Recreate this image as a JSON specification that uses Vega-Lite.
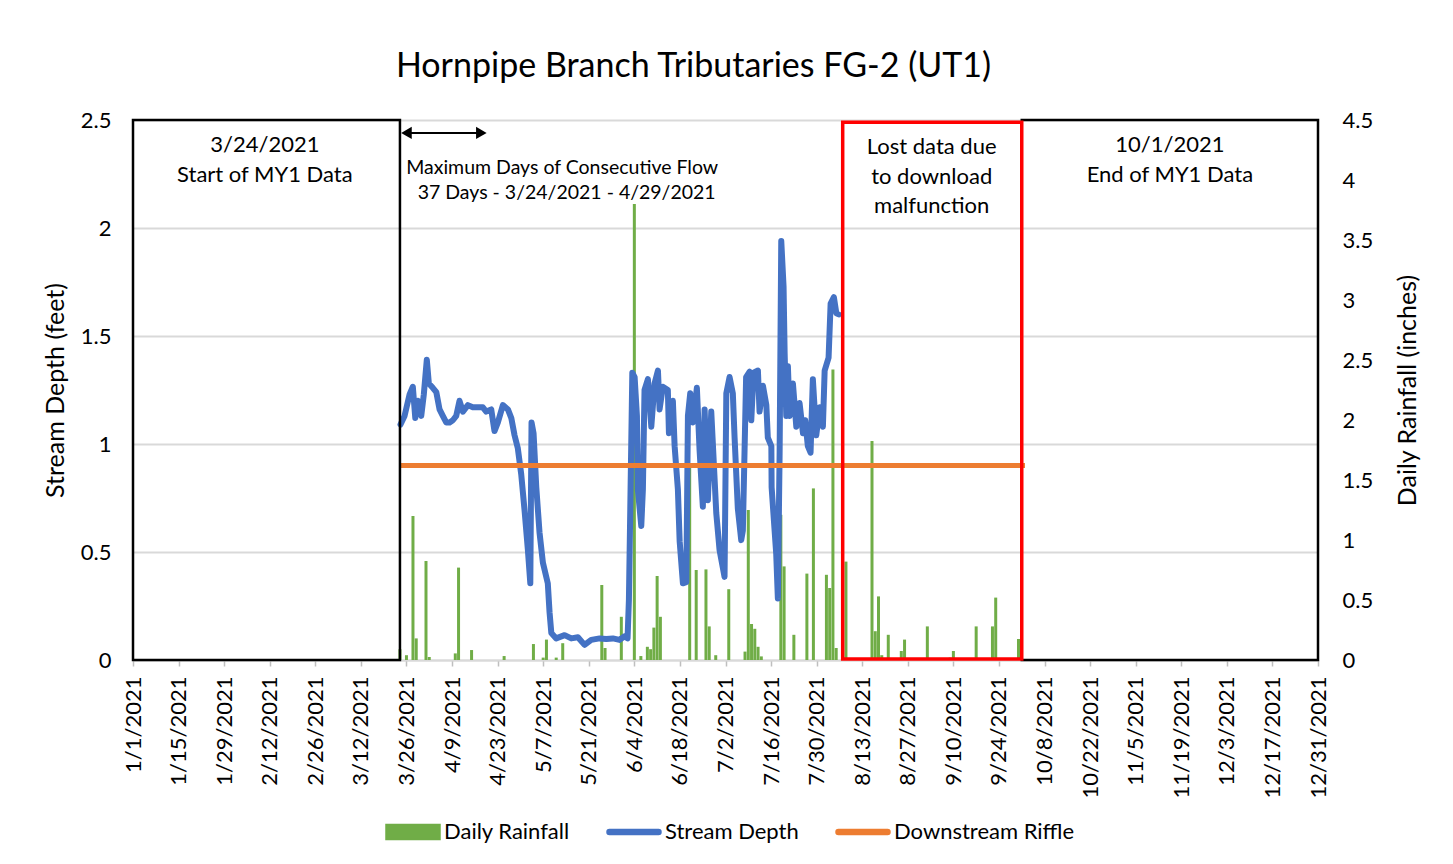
{
  "$schema": "https://vega.github.io/schema/vega-lite/v6.json",
  "autosize": {"type": "none"},
  "padding": {"left": 133, "top": 120, "right": 135, "bottom": 204},
  "width": 1185,
  "height": 540,
  "background": "white",
  "title": {
    "text": "Hornpipe Branch Tributaries FG-2 (UT1)",
    "font": "Lato", "fontSize": 34, "fontWeight": "normal", "color": "#000000",
    "anchor": "middle", "dx": -32, "offset": 25
  },
  "config": {
    "view": {"stroke": null},
    "font": "Lato",
    "axis": {"labelFont": "Lato", "titleFont": "Lato", "labelColor": "#000000", "titleColor": "#000000", "titleFontWeight": "normal"}
  },
  "datasets": {
    "rain": [
      {"date": "2021-03-24", "rain": 0.09},
      {"date": "2021-03-26", "rain": 0.04},
      {"date": "2021-03-28", "rain": 1.2},
      {"date": "2021-03-29", "rain": 0.18},
      {"date": "2021-04-01", "rain": 0.825},
      {"date": "2021-04-02", "rain": 0.025},
      {"date": "2021-04-10", "rain": 0.055},
      {"date": "2021-04-11", "rain": 0.77},
      {"date": "2021-04-15", "rain": 0.083},
      {"date": "2021-04-25", "rain": 0.033},
      {"date": "2021-05-04", "rain": 0.133},
      {"date": "2021-05-07", "rain": 0.02},
      {"date": "2021-05-08", "rain": 0.17},
      {"date": "2021-05-11", "rain": 0.02},
      {"date": "2021-05-13", "rain": 0.14},
      {"date": "2021-05-25", "rain": 0.625},
      {"date": "2021-05-26", "rain": 0.1},
      {"date": "2021-05-31", "rain": 0.36},
      {"date": "2021-06-04", "rain": 3.8},
      {"date": "2021-06-06", "rain": 0.033},
      {"date": "2021-06-08", "rain": 0.11},
      {"date": "2021-06-09", "rain": 0.09},
      {"date": "2021-06-10", "rain": 0.27},
      {"date": "2021-06-11", "rain": 0.7},
      {"date": "2021-06-12", "rain": 0.36},
      {"date": "2021-06-21", "rain": 1.61},
      {"date": "2021-06-23", "rain": 0.75},
      {"date": "2021-06-26", "rain": 0.755},
      {"date": "2021-06-27", "rain": 0.28},
      {"date": "2021-06-29", "rain": 0.04},
      {"date": "2021-07-03", "rain": 0.59},
      {"date": "2021-07-08", "rain": 0.07},
      {"date": "2021-07-09", "rain": 1.25},
      {"date": "2021-07-10", "rain": 0.3},
      {"date": "2021-07-11", "rain": 0.26},
      {"date": "2021-07-12", "rain": 0.11},
      {"date": "2021-07-13", "rain": 0.03},
      {"date": "2021-07-19", "rain": 1.21},
      {"date": "2021-07-20", "rain": 0.78},
      {"date": "2021-07-23", "rain": 0.21},
      {"date": "2021-07-27", "rain": 0.72},
      {"date": "2021-07-29", "rain": 1.43},
      {"date": "2021-08-02", "rain": 0.71},
      {"date": "2021-08-03", "rain": 0.6},
      {"date": "2021-08-04", "rain": 2.42},
      {"date": "2021-08-05", "rain": 0.1},
      {"date": "2021-08-08", "rain": 0.82},
      {"date": "2021-08-16", "rain": 1.825},
      {"date": "2021-08-17", "rain": 0.24},
      {"date": "2021-08-18", "rain": 0.53},
      {"date": "2021-08-19", "rain": 0.04},
      {"date": "2021-08-21", "rain": 0.21},
      {"date": "2021-08-25", "rain": 0.075},
      {"date": "2021-08-26", "rain": 0.17},
      {"date": "2021-09-02", "rain": 0.28},
      {"date": "2021-09-09", "rain": 0.02},
      {"date": "2021-09-10", "rain": 0.075},
      {"date": "2021-09-17", "rain": 0.28},
      {"date": "2021-09-22", "rain": 0.28},
      {"date": "2021-09-23", "rain": 0.52},
      {"date": "2021-09-30", "rain": 0.175}
    ],
    "depth": [
      {"date": "2021-03-24T04:00", "depth": 1.09},
      {"date": "2021-03-25T10:00", "depth": 1.13},
      {"date": "2021-03-26T23:00", "depth": 1.23},
      {"date": "2021-03-27T23:00", "depth": 1.265},
      {"date": "2021-03-28T17:00", "depth": 1.12},
      {"date": "2021-03-29T12:00", "depth": 1.2},
      {"date": "2021-03-30T13:00", "depth": 1.13},
      {"date": "2021-03-31T08:00", "depth": 1.23},
      {"date": "2021-04-01T06:00", "depth": 1.39},
      {"date": "2021-04-01T21:00", "depth": 1.28},
      {"date": "2021-04-03T02:00", "depth": 1.26},
      {"date": "2021-04-04T04:00", "depth": 1.24},
      {"date": "2021-04-05T04:00", "depth": 1.16},
      {"date": "2021-04-06T04:00", "depth": 1.13},
      {"date": "2021-04-07T05:00", "depth": 1.1},
      {"date": "2021-04-08T06:00", "depth": 1.1},
      {"date": "2021-04-09T06:00", "depth": 1.11},
      {"date": "2021-04-10T07:00", "depth": 1.13},
      {"date": "2021-04-11T07:00", "depth": 1.2},
      {"date": "2021-04-12T08:00", "depth": 1.15},
      {"date": "2021-04-13T21:00", "depth": 1.18},
      {"date": "2021-04-15T09:00", "depth": 1.17},
      {"date": "2021-04-16T22:00", "depth": 1.17},
      {"date": "2021-04-18T11:00", "depth": 1.17},
      {"date": "2021-04-19T12:00", "depth": 1.15},
      {"date": "2021-04-21T01:00", "depth": 1.16},
      {"date": "2021-04-22T01:00", "depth": 1.06},
      {"date": "2021-04-23T02:00", "depth": 1.1},
      {"date": "2021-04-24T15:00", "depth": 1.18},
      {"date": "2021-04-26T04:00", "depth": 1.16},
      {"date": "2021-04-27T05:00", "depth": 1.12},
      {"date": "2021-04-28T05:00", "depth": 1.04},
      {"date": "2021-04-29T05:00", "depth": 0.98},
      {"date": "2021-04-30T06:00", "depth": 0.86},
      {"date": "2021-05-01T07:00", "depth": 0.69},
      {"date": "2021-05-02T07:00", "depth": 0.51},
      {"date": "2021-05-03T01:00", "depth": 0.355},
      {"date": "2021-05-03T10:00", "depth": 1.1},
      {"date": "2021-05-04T01:00", "depth": 1.05},
      {"date": "2021-05-04T21:00", "depth": 0.8},
      {"date": "2021-05-05T21:00", "depth": 0.59},
      {"date": "2021-05-06T22:00", "depth": 0.45},
      {"date": "2021-05-08T10:00", "depth": 0.355},
      {"date": "2021-05-08T23:00", "depth": 0.22},
      {"date": "2021-05-09T12:00", "depth": 0.125},
      {"date": "2021-05-11T00:00", "depth": 0.1},
      {"date": "2021-05-13T14:00", "depth": 0.115},
      {"date": "2021-05-15T15:00", "depth": 0.1},
      {"date": "2021-05-17T16:00", "depth": 0.105},
      {"date": "2021-05-19T17:00", "depth": 0.07},
      {"date": "2021-05-21T18:00", "depth": 0.093},
      {"date": "2021-05-24T08:00", "depth": 0.1},
      {"date": "2021-05-26T09:00", "depth": 0.097},
      {"date": "2021-05-28T10:00", "depth": 0.1},
      {"date": "2021-05-30T11:00", "depth": 0.093},
      {"date": "2021-06-01T00:00", "depth": 0.11},
      {"date": "2021-06-01T22:00", "depth": 0.1},
      {"date": "2021-06-02T08:00", "depth": 0.28},
      {"date": "2021-06-03T09:00", "depth": 1.33},
      {"date": "2021-06-04T02:00", "depth": 1.31},
      {"date": "2021-06-04T19:00", "depth": 1.13},
      {"date": "2021-06-05T02:00", "depth": 0.79},
      {"date": "2021-06-06T03:00", "depth": 0.62},
      {"date": "2021-06-06T15:00", "depth": 0.79},
      {"date": "2021-06-07T03:00", "depth": 1.25},
      {"date": "2021-06-08T04:00", "depth": 1.3},
      {"date": "2021-06-09T05:00", "depth": 1.08},
      {"date": "2021-06-10T05:00", "depth": 1.28},
      {"date": "2021-06-11T06:00", "depth": 1.34},
      {"date": "2021-06-11T18:00", "depth": 1.16},
      {"date": "2021-06-12T18:00", "depth": 1.265},
      {"date": "2021-06-14T07:00", "depth": 1.25},
      {"date": "2021-06-14T15:00", "depth": 1.05},
      {"date": "2021-06-15T20:00", "depth": 1.2},
      {"date": "2021-06-16T09:00", "depth": 0.99},
      {"date": "2021-06-17T09:00", "depth": 0.79},
      {"date": "2021-06-17T22:00", "depth": 0.55},
      {"date": "2021-06-18T22:00", "depth": 0.355},
      {"date": "2021-06-19T23:00", "depth": 0.36},
      {"date": "2021-06-20T11:00", "depth": 1.13},
      {"date": "2021-06-21T04:00", "depth": 1.235},
      {"date": "2021-06-22T00:00", "depth": 1.1},
      {"date": "2021-06-23T05:00", "depth": 1.26},
      {"date": "2021-06-24T01:00", "depth": 0.97},
      {"date": "2021-06-25T01:00", "depth": 0.71},
      {"date": "2021-06-25T14:00", "depth": 1.16},
      {"date": "2021-06-26T14:00", "depth": 0.74},
      {"date": "2021-06-27T15:00", "depth": 1.15},
      {"date": "2021-06-29T04:00", "depth": 0.68},
      {"date": "2021-06-30T04:00", "depth": 0.51},
      {"date": "2021-07-01T17:00", "depth": 0.385},
      {"date": "2021-07-02T06:00", "depth": 1.235},
      {"date": "2021-07-03T06:00", "depth": 1.31},
      {"date": "2021-07-04T06:00", "depth": 1.235},
      {"date": "2021-07-04T19:00", "depth": 1.03},
      {"date": "2021-07-05T19:00", "depth": 0.7},
      {"date": "2021-07-06T20:00", "depth": 0.555},
      {"date": "2021-07-07T08:00", "depth": 0.6},
      {"date": "2021-07-08T08:00", "depth": 1.31},
      {"date": "2021-07-09T10:00", "depth": 1.335},
      {"date": "2021-07-09T22:00", "depth": 1.11},
      {"date": "2021-07-10T15:00", "depth": 1.33},
      {"date": "2021-07-11T23:00", "depth": 1.34},
      {"date": "2021-07-12T11:00", "depth": 1.15},
      {"date": "2021-07-13T12:00", "depth": 1.27},
      {"date": "2021-07-14T13:00", "depth": 1.18},
      {"date": "2021-07-15T00:00", "depth": 1.03},
      {"date": "2021-07-16T02:00", "depth": 0.99},
      {"date": "2021-07-16T04:00", "depth": 0.8},
      {"date": "2021-07-17T14:00", "depth": 0.49},
      {"date": "2021-07-18T02:00", "depth": 0.285},
      {"date": "2021-07-18T15:00", "depth": 0.96},
      {"date": "2021-07-19T03:00", "depth": 1.94},
      {"date": "2021-07-19T20:00", "depth": 1.73},
      {"date": "2021-07-20T04:00", "depth": 1.42},
      {"date": "2021-07-20T16:00", "depth": 1.13},
      {"date": "2021-07-21T04:00", "depth": 1.36},
      {"date": "2021-07-21T17:00", "depth": 1.13},
      {"date": "2021-07-22T17:00", "depth": 1.28},
      {"date": "2021-07-23T18:00", "depth": 1.08},
      {"date": "2021-07-24T18:00", "depth": 1.19},
      {"date": "2021-07-25T19:00", "depth": 1.05},
      {"date": "2021-07-26T12:00", "depth": 1.11},
      {"date": "2021-07-27T07:00", "depth": 0.99},
      {"date": "2021-07-28T03:00", "depth": 0.96},
      {"date": "2021-07-28T20:00", "depth": 1.3},
      {"date": "2021-07-29T21:00", "depth": 1.04},
      {"date": "2021-07-30T22:00", "depth": 1.17},
      {"date": "2021-07-31T22:00", "depth": 1.08},
      {"date": "2021-08-01T11:00", "depth": 1.34},
      {"date": "2021-08-02T16:00", "depth": 1.4},
      {"date": "2021-08-03T07:00", "depth": 1.65},
      {"date": "2021-08-04T07:00", "depth": 1.68},
      {"date": "2021-08-05T01:00", "depth": 1.605},
      {"date": "2021-08-05T18:00", "depth": 1.6}
    ],
    "riffle": [
      {"start": "2021-03-24", "end": "2021-10-02", "depth": 0.9}
    ],
    "myboxes": [
      {"start": "2021-01-01", "end": "2021-03-24", "low": 0, "high": 2.5},
      {"start": "2021-10-01", "end": "2021-12-31", "low": 0, "high": 2.5}
    ],
    "lostbox": [
      {"start": "2021-08-07", "end": "2021-10-01", "low": 0.005, "high": 2.49}
    ],
    "notes": [
      {"date": "2021-02-10T12:00", "depth": 2.384, "label": "3/24/2021"},
      {"date": "2021-02-10T12:00", "depth": 2.245, "label": "Start of MY1 Data"},
      {"date": "2021-11-15T12:00", "depth": 2.384, "label": "10/1/2021"},
      {"date": "2021-11-15T12:00", "depth": 2.245, "label": "End of MY1 Data"},
      {"date": "2021-09-03T08:00", "depth": 2.375, "label": "Lost data due"},
      {"date": "2021-09-03T08:00", "depth": 2.236, "label": "to download"},
      {"date": "2021-09-03T08:00", "depth": 2.102, "label": "malfunction"}
    ],
    "flownotes": [
      {"date": "2021-05-12T20:00", "depth": 2.278, "label": "Maximum Days of Consecutive Flow"},
      {"date": "2021-05-14T05:00", "depth": 2.162, "label": "37 Days - 3/24/2021 - 4/29/2021"}
    ],
    "arrow": [
      {"start": "2021-03-26", "end": "2021-04-18", "depth": 2.44}
    ]
  },
  "resolve": {"scale": {"y": "independent"}},
  "layer": [
    {
      "data": {"name": "rain"},
      "mark": {"type": "bar", "size": 3},
      "encoding": {
        "x": {
          "field": "date", "type": "temporal",
          "scale": {"domain": [{"year": 2021, "month": 1, "date": 1}, {"year": 2021, "month": 12, "date": 31}], "nice": false, "padding": 0},
          "axis": {
            "title": null,
            "format": "%-m/%-d/%Y", "formatType": "time",
            "values": [
              {"year": 2021, "month": 1, "date": 1}, {"year": 2021, "month": 1, "date": 15}, {"year": 2021, "month": 1, "date": 29},
              {"year": 2021, "month": 2, "date": 12}, {"year": 2021, "month": 2, "date": 26}, {"year": 2021, "month": 3, "date": 12},
              {"year": 2021, "month": 3, "date": 26}, {"year": 2021, "month": 4, "date": 9}, {"year": 2021, "month": 4, "date": 23},
              {"year": 2021, "month": 5, "date": 7}, {"year": 2021, "month": 5, "date": 21}, {"year": 2021, "month": 6, "date": 4},
              {"year": 2021, "month": 6, "date": 18}, {"year": 2021, "month": 7, "date": 2}, {"year": 2021, "month": 7, "date": 16},
              {"year": 2021, "month": 7, "date": 30}, {"year": 2021, "month": 8, "date": 13}, {"year": 2021, "month": 8, "date": 27},
              {"year": 2021, "month": 9, "date": 10}, {"year": 2021, "month": 9, "date": 24}, {"year": 2021, "month": 10, "date": 8},
              {"year": 2021, "month": 10, "date": 22}, {"year": 2021, "month": 11, "date": 5}, {"year": 2021, "month": 11, "date": 19},
              {"year": 2021, "month": 12, "date": 3}, {"year": 2021, "month": 12, "date": 17}, {"year": 2021, "month": 12, "date": 31}
            ],
            "labelAngle": 270, "labelFontSize": 22, "labelPadding": 10,
            "labelOverlap": false, "labelFlush": false, "labelBound": false,
            "tickSize": 6, "tickColor": "#bfbfbf", "tickWidth": 1.5,
            "domainColor": "#d9d9d9", "domainWidth": 2, "grid": false
          }
        },
        "y": {
          "field": "rain", "type": "quantitative",
          "scale": {"domain": [0, 4.5], "nice": false, "zero": true},
          "axis": {
            "orient": "right", "title": "Daily Rainfall (inches)", "titleFontSize": 25, "titlePadding": 48, "titleAngle": 270,
            "values": [0, 0.5, 1, 1.5, 2, 2.5, 3, 3.5, 4, 4.5], "format": "~g",
            "labelFontSize": 22, "labelPadding": 24, "ticks": false, "domain": false, "grid": false
          }
        },
        "color": {
          "datum": "Daily Rainfall", "type": "nominal",
          "scale": {"domain": ["Daily Rainfall", "Stream Depth", "Downstream Riffle"], "range": ["#70AD47", "#4472C4", "#ED7D31"]},
          "legend": {
            "title": null, "orient": "none", "direction": "horizontal", "legendX": 252, "legendY": 684,
            "labelFont": "Lato", "labelFontSize": 22, "labelColor": "#000000", "labelOffset": 3, "labelLimit": 0,
            "symbolSize": 2916, "columnPadding": 34,
            "encode": {
              "symbols": {
                "update": {
                  "shape": {"signal": "datum.label === 'Daily Rainfall' ? 'M-1,-0.28H1V0.28H-1Z' : 'M-0.91,-0.09H0.91A0.09,0.09 0 0 1 0.91,0.09H-0.91A0.09,0.09 0 0 1 -0.91,-0.09Z'"},
                  "fill": {"scale": "color", "field": "value"},
                  "stroke": {"value": "transparent"},
                  "fillOpacity": {"value": 1}
                }
              }
            }
          }
        }
      }
    },
    {
      "layer": [
        {
          "data": {"name": "depth"},
          "mark": {"type": "line", "strokeWidth": 6, "strokeJoin": "round", "strokeCap": "round"},
          "encoding": {
            "x": {"field": "date", "type": "temporal"},
            "y": {
              "field": "depth", "type": "quantitative",
              "scale": {"domain": [0, 2.5], "nice": false},
              "axis": {
                "orient": "left", "title": "Stream Depth (feet)", "titleFontSize": 25, "titlePadding": 12,
                "values": [0, 0.5, 1, 1.5, 2, 2.5], "format": "~g",
                "labelFontSize": 22, "labelPadding": 22, "ticks": false, "domain": false,
                "grid": true, "gridColor": "#d9d9d9", "gridWidth": 2
              }
            },
            "color": {"datum": "Stream Depth", "type": "nominal"}
          }
        },
        {
          "data": {"name": "riffle"},
          "mark": {"type": "rule", "strokeWidth": 5, "strokeCap": "butt"},
          "encoding": {
            "x": {"field": "start", "type": "temporal"},
            "x2": {"field": "end"},
            "y": {"field": "depth", "type": "quantitative"},
            "color": {"datum": "Downstream Riffle", "type": "nominal"}
          }
        },
        {
          "data": {"name": "myboxes"},
          "mark": {"type": "rect", "fillOpacity": 0, "stroke": "#000000", "strokeWidth": 2.5},
          "encoding": {
            "x": {"field": "start", "type": "temporal"},
            "x2": {"field": "end"},
            "y": {"field": "low", "type": "quantitative"},
            "y2": {"field": "high"}
          }
        },
        {
          "data": {"name": "lostbox"},
          "mark": {"type": "rect", "fillOpacity": 0, "stroke": "#FF0000", "strokeWidth": 3.5},
          "encoding": {
            "x": {"field": "start", "type": "temporal"},
            "x2": {"field": "end"},
            "y": {"field": "low", "type": "quantitative"},
            "y2": {"field": "high"}
          }
        },
        {
          "data": {"name": "arrow"},
          "mark": {"type": "rule", "strokeWidth": 2, "color": "#000000"},
          "encoding": {
            "x": {"field": "start", "type": "temporal"},
            "x2": {"field": "end"},
            "y": {"field": "depth", "type": "quantitative"}
          }
        },
        {
          "data": {"name": "arrow"},
          "mark": {"type": "point", "shape": "triangle-left", "filled": true, "color": "#000000", "size": 150, "opacity": 1},
          "encoding": {
            "x": {"field": "start", "type": "temporal"},
            "y": {"field": "depth", "type": "quantitative"}
          }
        },
        {
          "data": {"name": "arrow"},
          "mark": {"type": "point", "shape": "triangle-right", "filled": true, "color": "#000000", "size": 150, "opacity": 1},
          "encoding": {
            "x": {"field": "end", "type": "temporal"},
            "y": {"field": "depth", "type": "quantitative"}
          }
        },
        {
          "data": {"name": "notes"},
          "mark": {"type": "text", "font": "Lato", "fontSize": 22, "color": "#000000", "align": "center", "baseline": "middle"},
          "encoding": {
            "x": {"field": "date", "type": "temporal"},
            "y": {"field": "depth", "type": "quantitative"},
            "text": {"field": "label", "type": "nominal"}
          }
        },
        {
          "data": {"name": "flownotes"},
          "mark": {"type": "text", "font": "Lato", "fontSize": 19.5, "color": "#000000", "align": "center", "baseline": "middle"},
          "encoding": {
            "x": {"field": "date", "type": "temporal"},
            "y": {"field": "depth", "type": "quantitative"},
            "text": {"field": "label", "type": "nominal"}
          }
        }
      ]
    }
  ]
}
